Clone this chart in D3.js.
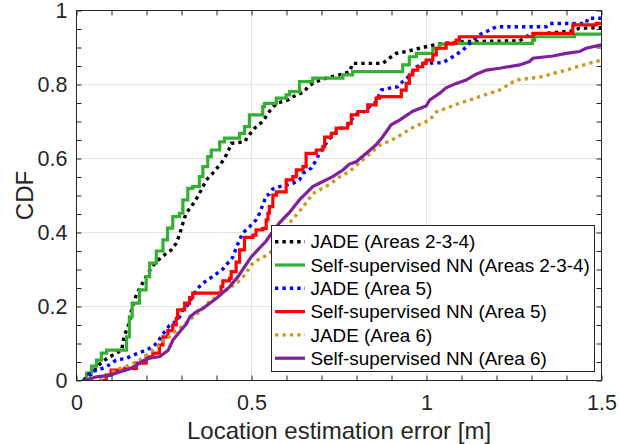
<!DOCTYPE html>
<html><head><meta charset="utf-8">
<script src="https://cdn.jsdelivr.net/npm/d3@7/dist/d3.min.js"></script>
<style>body{margin:0;background:#fff}svg{display:block}</style>
</head><body><svg id="c" width="620" height="444"></svg>
<script>
// ---- data (x = location error [m], y = CDF) ----
const xTicks = [0, 0.5, 1, 1.5];
const yTicks = [0, 0.2, 0.4, 0.6, 0.8, 1];
const xMinor = [0,0.1,0.2,0.3,0.4,0.5,0.6,0.7,0.8,0.9,1,1.1,1.2,1.3,1.4,1.5];
const yMinor = [0,0.05,0.1,0.15,0.2,0.25,0.3,0.35,0.4,0.45,0.5,0.55,0.6,0.65,0.7,0.75,0.8,0.85,0.9,0.95,1];
const seriesNames = ["JADE (Areas 2-3-4)","Self-supervised NN (Areas 2-3-4)","JADE (Area 5)","Self-supervised NN (Area 5)","JADE (Area 6)","Self-supervised NN (Area 6)"];
const seriesColors = ["#000000","#33b033","#0000ff","#ff0000","#cc9922","#80209a"];
const seriesDotted = [true,false,true,false,true,false];
const seriesStepped = [false,true,false,true,false,false];

const jadeA234 = [[0.02,0],[0.029,0.01],[0.048,0.02],[0.057,0.037],[0.08,0.055],[0.095,0.064],[0.114,0.074],[0.129,0.082],[0.134,0.11],[0.143,0.137],[0.151,0.155],[0.157,0.19],[0.171,0.231],[0.181,0.25],[0.191,0.267],[0.204,0.29],[0.218,0.31],[0.243,0.334],[0.271,0.353],[0.285,0.371],[0.294,0.393],[0.304,0.425],[0.313,0.452],[0.328,0.47],[0.342,0.49],[0.356,0.514],[0.371,0.542],[0.389,0.56],[0.409,0.582],[0.423,0.6],[0.437,0.628],[0.442,0.641],[0.48,0.645],[0.494,0.664],[0.509,0.682],[0.532,0.7],[0.551,0.727],[0.571,0.749],[0.604,0.758],[0.628,0.772],[0.651,0.78],[0.661,0.794],[0.685,0.808],[0.713,0.817],[0.751,0.826],[0.78,0.834],[0.789,0.857],[0.875,0.857],[0.894,0.871],[0.913,0.884],[0.942,0.889],[0.98,0.898],[1.037,0.91],[1.113,0.916],[1.266,0.918],[1.294,0.934],[1.417,0.945],[1.437,0.952],[1.5,0.954]];
const nnA234 = [[0.014,0],[0.029,0.02],[0.043,0.039],[0.057,0.055],[0.071,0.074],[0.086,0.082],[0.129,0.082],[0.143,0.101],[0.143,0.118],[0.151,0.172],[0.159,0.209],[0.18,0.245],[0.199,0.281],[0.209,0.317],[0.228,0.35],[0.247,0.38],[0.26,0.412],[0.275,0.443],[0.294,0.452],[0.304,0.488],[0.318,0.519],[0.332,0.524],[0.351,0.551],[0.361,0.578],[0.375,0.605],[0.385,0.623],[0.409,0.645],[0.423,0.655],[0.437,0.655],[0.466,0.668],[0.48,0.686],[0.494,0.718],[0.518,0.718],[0.532,0.74],[0.537,0.749],[0.561,0.749],[0.571,0.763],[0.599,0.772],[0.609,0.781],[0.632,0.781],[0.637,0.808],[0.675,0.817],[0.761,0.826],[0.789,0.835],[0.904,0.835],[0.932,0.853],[0.951,0.875],[0.971,0.884],[1.018,0.898],[1.037,0.909],[1.075,0.911],[1.303,0.92],[1.309,0.929],[1.417,0.929],[1.423,0.936],[1.5,0.936]];
const jadeA5 = [[0.02,0],[0.032,0.007],[0.038,0.023],[0.061,0.028],[0.085,0.037],[0.113,0.055],[0.142,0.06],[0.171,0.072],[0.199,0.082],[0.209,0.087],[0.229,0.1],[0.247,0.126],[0.266,0.149],[0.286,0.161],[0.299,0.177],[0.304,0.193],[0.318,0.204],[0.332,0.227],[0.342,0.245],[0.361,0.263],[0.389,0.281],[0.418,0.301],[0.447,0.334],[0.456,0.358],[0.466,0.38],[0.475,0.399],[0.494,0.415],[0.513,0.434],[0.523,0.452],[0.532,0.474],[0.542,0.499],[0.551,0.504],[0.561,0.518],[0.58,0.524],[0.618,0.533],[0.637,0.542],[0.647,0.56],[0.671,0.574],[0.685,0.596],[0.694,0.614],[0.713,0.641],[0.732,0.664],[0.756,0.682],[0.78,0.693],[0.794,0.718],[0.823,0.727],[0.837,0.74],[0.856,0.753],[0.871,0.785],[0.894,0.79],[0.918,0.794],[0.932,0.808],[0.951,0.823],[0.971,0.847],[0.989,0.857],[1.047,0.859],[1.075,0.875],[1.104,0.893],[1.123,0.911],[1.151,0.934],[1.18,0.947],[1.199,0.956],[1.342,0.956],[1.351,0.965],[1.456,0.965],[1.461,0.979],[1.5,0.979]];
const nnA5 = [[0.074,0],[0.085,0.015],[0.099,0.028],[0.137,0.033],[0.171,0.047],[0.199,0.064],[0.218,0.074],[0.237,0.096],[0.247,0.118],[0.261,0.135],[0.275,0.15],[0.285,0.168],[0.289,0.191],[0.309,0.209],[0.323,0.224],[0.332,0.236],[0.399,0.236],[0.413,0.254],[0.418,0.269],[0.437,0.276],[0.442,0.294],[0.456,0.32],[0.466,0.353],[0.48,0.387],[0.504,0.393],[0.513,0.407],[0.532,0.411],[0.542,0.434],[0.547,0.452],[0.551,0.47],[0.561,0.501],[0.571,0.51],[0.589,0.51],[0.599,0.542],[0.618,0.551],[0.628,0.569],[0.647,0.578],[0.656,0.614],[0.685,0.623],[0.704,0.632],[0.709,0.658],[0.728,0.668],[0.742,0.682],[0.775,0.695],[0.785,0.718],[0.804,0.727],[0.832,0.745],[0.856,0.763],[0.866,0.767],[0.913,0.767],[0.928,0.785],[0.942,0.803],[0.951,0.826],[0.961,0.839],[0.975,0.848],[0.989,0.857],[0.999,0.866],[1.018,0.88],[1.028,0.898],[1.056,0.911],[1.085,0.92],[1.094,0.929],[1.294,0.929],[1.304,0.938],[1.417,0.938],[1.418,0.961],[1.485,0.965],[1.5,0.969]];
const jadeA6 = [[0.066,0],[0.075,0.006],[0.094,0.019],[0.124,0.033],[0.142,0.038],[0.152,0.042],[0.18,0.055],[0.204,0.072],[0.228,0.089],[0.247,0.107],[0.257,0.112],[0.276,0.128],[0.295,0.141],[0.323,0.164],[0.351,0.186],[0.38,0.214],[0.409,0.231],[0.437,0.25],[0.461,0.266],[0.485,0.29],[0.499,0.312],[0.518,0.326],[0.537,0.335],[0.556,0.348],[0.58,0.385],[0.609,0.426],[0.647,0.469],[0.675,0.505],[0.694,0.515],[0.723,0.53],[0.751,0.55],[0.78,0.565],[0.804,0.585],[0.828,0.605],[0.866,0.635],[0.913,0.656],[0.961,0.684],[1.009,0.704],[1.028,0.726],[1.094,0.749],[1.151,0.767],[1.209,0.785],[1.256,0.812],[1.323,0.82],[1.399,0.839],[1.456,0.855],[1.5,0.866]];
const nnA6 = [[0.023,0],[0.057,0.01],[0.094,0.014],[0.123,0.023],[0.151,0.031],[0.171,0.041],[0.19,0.053],[0.209,0.06],[0.238,0.065],[0.262,0.082],[0.276,0.11],[0.295,0.132],[0.314,0.153],[0.324,0.172],[0.343,0.186],[0.362,0.195],[0.381,0.209],[0.4,0.222],[0.414,0.234],[0.437,0.253],[0.461,0.28],[0.48,0.307],[0.499,0.334],[0.518,0.353],[0.542,0.377],[0.556,0.396],[0.58,0.426],[0.609,0.455],[0.637,0.488],[0.675,0.524],[0.694,0.533],[0.732,0.551],[0.761,0.569],[0.78,0.585],[0.799,0.591],[0.828,0.614],[0.856,0.637],[0.875,0.659],[0.899,0.691],[0.923,0.704],[0.961,0.728],[0.999,0.742],[1.009,0.758],[1.037,0.776],[1.056,0.791],[1.085,0.803],[1.113,0.812],[1.142,0.828],[1.171,0.839],[1.209,0.844],[1.266,0.853],[1.294,0.862],[1.304,0.871],[1.361,0.877],[1.399,0.884],[1.437,0.889],[1.456,0.898],[1.5,0.907]];
const allSeries = [jadeA234, nnA234, jadeA5, nnA5, jadeA6, nnA6];

// ---- drawing ----
const FONT = "'Liberation Sans', Arial, Helvetica, sans-serif";
const AX = "#262626";
const svg = d3.select("#c").style("font-family", FONT);
const x = d3.scaleLinear().domain([0, 1.5]).range([76.5, 601.5]);
const y = d3.scaleLinear().domain([0, 1]).range([380.5, 10.5]);

svg.append("rect").attr("width",620).attr("height",444).attr("fill","#fff");

// grid
const grid = svg.append("g").attr("stroke","#e3e3e3").attr("stroke-width",1);
grid.selectAll(".gx").data(xTicks.filter(d=>d>0&&d<1.5)).join("line")
  .attr("x1",d=>x(d)).attr("x2",d=>x(d)).attr("y1",y(0)).attr("y2",y(1));
grid.selectAll(".gy").data(yTicks.filter(d=>d>0&&d<1)).join("line")
  .attr("y1",d=>y(d)).attr("y2",d=>y(d)).attr("x1",x(0)).attr("x2",x(1.5));

// lines
svg.append("clipPath").attr("id","clp").append("rect")
  .attr("x",x(0)).attr("y",y(1)-2).attr("width",x(1.5)-x(0)).attr("height",y(0)-y(1)+2);
const lineStep = d3.line().x(d=>x(d[0])).y(d=>y(d[1])).curve(d3.curveStepAfter);
const lineLin = d3.line().x(d=>x(d[0])).y(d=>y(d[1])).curve(d3.curveLinear);
const lg = svg.append("g").attr("clip-path","url(#clp)");
allSeries.forEach((s,i)=>{
  lg.append("path").datum(s).attr("d", seriesStepped[i] ? lineStep : lineLin).attr("fill","none")
    .attr("stroke",seriesColors[i])
    .attr("stroke-width", seriesDotted[i] ? 3.4 : 3.2)
    .attr("stroke-dasharray", seriesDotted[i] ? "3.4,4" : null)
    .attr("stroke-linejoin","miter");
});

// ticks (inward, all four sides)
function styleAxis(g){ g.select(".domain").remove(); g.selectAll("line").attr("stroke",AX).attr("stroke-width",1); }
svg.append("g").attr("transform",`translate(0,${y(0)})`).call(d3.axisBottom(x).tickValues(xMinor).tickSize(-5).tickFormat("")).call(styleAxis);
svg.append("g").attr("transform",`translate(0,${y(1)})`).call(d3.axisTop(x).tickValues(xMinor).tickSize(-5).tickFormat("")).call(styleAxis);
svg.append("g").attr("transform",`translate(${x(0)},0)`).call(d3.axisLeft(y).tickValues(yMinor).tickSize(-5).tickFormat("")).call(styleAxis);
svg.append("g").attr("transform",`translate(${x(1.5)},0)`).call(d3.axisRight(y).tickValues(yMinor).tickSize(-5).tickFormat("")).call(styleAxis);

// tick labels
const xl = svg.append("g").attr("transform",`translate(0,${y(0)})`)
  .call(d3.axisBottom(x).tickValues(xTicks).tickSize(0).tickPadding(14.5).tickFormat(d=>String(d)));
xl.select(".domain").remove();
xl.selectAll("text").attr("fill",AX).style("font-size","21.5px").style("font-family",FONT);
const yl = svg.append("g").attr("transform",`translate(${x(0)},0)`)
  .call(d3.axisLeft(y).tickValues(yTicks).tickSize(0).tickPadding(9).tickFormat(d=>String(d)));
yl.select(".domain").remove();
yl.selectAll("text").attr("fill",AX).style("font-size","21.5px").style("font-family",FONT);

// box
svg.append("rect").attr("x",x(0)).attr("y",y(1)).attr("width",x(1.5)-x(0)).attr("height",y(0)-y(1))
  .attr("fill","none").attr("stroke",AX).attr("stroke-width",1);

// axis titles
svg.append("text").attr("x",(x(0)+x(1.5))/2).attr("y",439).attr("text-anchor","middle")
  .attr("fill",AX).style("font-size","24px").text("Location estimation error [m]");
svg.append("text").attr("transform",`translate(33,${(y(0)+y(1))/2}) rotate(-90)`).attr("text-anchor","middle")
  .attr("fill",AX).style("font-size","24px").text("CDF");

// legend
const leg = svg.append("g");
leg.append("rect").attr("x",271.5).attr("y",225.5).attr("width",323).attr("height",146)
  .attr("fill","#fff").attr("stroke",AX).attr("stroke-width",1);
seriesNames.forEach((n,i)=>{
  const cy = 241.7 + i*23.3;
  leg.append("line").attr("x1",275).attr("x2",305).attr("y1",cy).attr("y2",cy)
    .attr("stroke",seriesColors[i]).attr("stroke-width", seriesDotted[i]?3.4:3.2)
    .attr("stroke-dasharray", seriesDotted[i] ? "3.4,4" : null);
  leg.append("text").attr("x",310.5).attr("y",cy).attr("dy","0.35em").attr("fill","#000")
    .style("font-size","18.9px").text(n);
});
</script>
</body></html>
